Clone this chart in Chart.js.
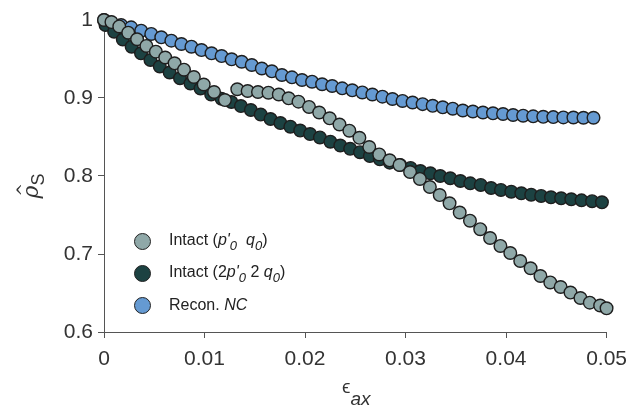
<!DOCTYPE html>
<html>
<head>
<meta charset="utf-8">
<script src="https://cdn.jsdelivr.net/npm/chart.js@4.4.1/dist/chart.umd.min.js"></script>
<style>
  html, body { margin: 0; padding: 0; background: #fff; }
  #wrap { position: relative; width: 636px; height: 418px; font-family: "Liberation Sans", Arial, sans-serif; color: #333; }
  #chart { position: absolute; left: 0; top: 0; }
  .ovl { position: absolute; white-space: nowrap; }
  #legend { left: 134px; top: 226px; font-size: 16px; color: #222; }
  #legend .row { height: 31.7px; display: flex; align-items: center; }
  #legend .dot { width: 15px; height: 15px; border-radius: 50%; border: 1.5px solid #222; margin-right: 18px; }
  #legend sub { font-size: 13px; vertical-align: -5px; }
  #xtitle { left: 342px; top: 376px; font-size: 19px; }
  #xtitle sub { font-size: 19px; font-style: italic; vertical-align: -12px; }
  #ytitle { left: 9px; top: 170px; width: 50px; height: 32px; font-size: 22px; transform: rotate(-90deg); text-align: center; }
  #ytitle .rho { position: relative; font-style: italic; font-family: "DejaVu Serif", serif; }
  #ytitle .hat { position: absolute; left: 2px; top: -4px; font-size: 16px; font-style: normal; }
  #ytitle sub { font-size: 18px; vertical-align: -6px; }
</style>
</head>
<body>
<div id="wrap">
  <canvas id="chart" width="636" height="418"></canvas>
  <div id="legend" class="ovl"></div>
  <div id="xtitle" class="ovl">&#x03F5;<sub>ax</sub></div>
  <div id="ytitle" class="ovl"><span class="rho">&rho;<span class="hat">^</span></span><sub>S</sub></div>
</div>
<script>
// ── Data ──
const seriesNames = [
    'Intact (<i>p\'</i><sub><i>0</i></sub> &nbsp;<i>q</i><sub><i>0</i></sub>)',
    'Intact (2<i>p\'</i><sub><i>0</i></sub> 2 <i>q</i><sub><i>0</i></sub>)',
    'Recon. <i>NC</i>'
];

const intactX = [0, 0.00074, 0.00152, 0.00241, 0.00329, 0.00422, 0.00516, 0.00609, 0.00702, 0.00796,
    0.00894, 0.00992, 0.01095, 0.01203, 0.01326, 0.01429, 0.01532, 0.01636, 0.01739, 0.01837,
    0.01935, 0.02040, 0.02141, 0.02245, 0.02343, 0.02441, 0.02541, 0.02639, 0.02738, 0.02842,
    0.02940, 0.03045, 0.03143, 0.03242, 0.03340, 0.03438, 0.03539, 0.03641, 0.03743, 0.03841,
    0.03944, 0.04042, 0.04141, 0.04244, 0.04342, 0.04440, 0.04543, 0.04641, 0.04740, 0.04833,
    0.04936, 0.05];
const intactY = [1.0000, 0.9974, 0.9917, 0.9837, 0.9753, 0.9667, 0.9594, 0.9519, 0.9445, 0.9363,
    0.9269, 0.9173, 0.9077, 0.8974, 0.9112, 0.9090, 0.9077, 0.9068, 0.9045, 0.8996,
    0.8953, 0.8885, 0.8814, 0.8740, 0.8660, 0.8581, 0.8490, 0.8372, 0.8276, 0.8201,
    0.8141, 0.8051, 0.7962, 0.7859, 0.7756, 0.7650, 0.7532, 0.7427, 0.7318, 0.7205,
    0.7103, 0.7013, 0.6910, 0.6817, 0.6718, 0.6635, 0.6577, 0.6506, 0.6436, 0.6376,
    0.6340, 0.6304];

const intact2X = [0.00015, 0.00101, 0.00187, 0.00275, 0.00368, 0.00462, 0.00555, 0.00653, 0.00756, 0.00860,
    0.00960, 0.01066, 0.01169, 0.01267, 0.01362, 0.01461, 0.01559, 0.01657, 0.01755, 0.01854,
    0.01952, 0.02050, 0.02148, 0.02252, 0.02351, 0.02449, 0.02547, 0.02645, 0.02744, 0.02842,
    0.02947, 0.03050, 0.03148, 0.03247, 0.03345, 0.03445, 0.03546, 0.03644, 0.03748, 0.03851,
    0.03949, 0.04052, 0.04152, 0.04250, 0.04349, 0.04447, 0.04548, 0.04649, 0.04751, 0.04856,
    0.04954];
const intact2Y = [0.9936, 0.9850, 0.9750, 0.9658, 0.9573, 0.9487, 0.9404, 0.9327, 0.9253, 0.9186,
    0.9122, 0.9045, 0.8990, 0.8949, 0.8897, 0.8846, 0.8788, 0.8731, 0.8679, 0.8632,
    0.8583, 0.8538, 0.8494, 0.8440, 0.8391, 0.8349, 0.8305, 0.8256, 0.8214, 0.8171,
    0.8141, 0.8103, 0.8064, 0.8035, 0.8000, 0.7971, 0.7936, 0.7906, 0.7885, 0.7846,
    0.7821, 0.7799, 0.7778, 0.7760, 0.7744, 0.7727, 0.7714, 0.7701, 0.7688, 0.7677,
    0.7663];

const reconX = [0, 0.0007, 0.0017, 0.0027, 0.0037, 0.0047, 0.0057, 0.0067, 0.0077, 0.0087,
    0.0097, 0.0107, 0.0117, 0.0127, 0.0137, 0.0147, 0.0157, 0.0167, 0.0177, 0.0187,
    0.0197, 0.0207, 0.0217, 0.0227, 0.0237, 0.0247, 0.0257, 0.0267, 0.0277, 0.0287,
    0.0297, 0.0307, 0.0317, 0.0327, 0.0337, 0.0347, 0.0357, 0.0367, 0.0377, 0.0387,
    0.0397, 0.0407, 0.0417, 0.0427, 0.0437, 0.0447, 0.0457, 0.0467, 0.0477, 0.0487];
const reconY = [1.0000, 0.9968, 0.9936, 0.9906, 0.9863, 0.9821, 0.9778, 0.9735, 0.9692, 0.9658,
    0.9615, 0.9573, 0.9538, 0.9496, 0.9465, 0.9423, 0.9378, 0.9342, 0.9295, 0.9265,
    0.9231, 0.9209, 0.9176, 0.9154, 0.9124, 0.9099, 0.9071, 0.9045, 0.9017, 0.8987,
    0.8962, 0.8942, 0.8921, 0.8900, 0.8881, 0.8863, 0.8840, 0.8827, 0.8814, 0.8804,
    0.8795, 0.8782, 0.8773, 0.8765, 0.8759, 0.8755, 0.8751, 0.8750, 0.8747, 0.8747];

const xTicks = [0, 0.01, 0.02, 0.03, 0.04, 0.05];
const xTickLabels = ['0', '0.01', '0.02', '0.03', '0.04', '0.05'];
const yTicks = [0.6, 0.7, 0.8, 0.9, 1];
const yTickLabels = ['0.6', '0.7', '0.8', '0.9', '1'];

// ── Styles ──
const fills = ['#8fa8a8', '#1c4242', '#659ad2'];
const edge = '#1e1e1e';
const axisColor = '#555';
const fontFamily = '"Liberation Sans", Arial, sans-serif';

function toPoints(xs, ys) {
    return xs.map((x, i) => ({ x: x, y: ys[i] }));
}

const seriesData = [
    toPoints(intactX, intactY),
    toPoints(intact2X, intact2Y),
    toPoints(reconX, reconY)
];

const datasets = seriesData.map((pts, i) => ({
    label: seriesNames[i],
    data: pts,
    showLine: false,
    pointRadius: 6.3,
    pointBorderWidth: 1.4,
    pointBackgroundColor: fills[i],
    pointBorderColor: edge,
    clip: false
}));

// ── Legend (HTML so sub/italic text works) ──
const legendEl = document.getElementById('legend');
seriesNames.forEach((name, i) => {
    const row = document.createElement('div');
    row.className = 'row';
    row.innerHTML = `<span class="dot" style="background:${fills[i]}"></span><span>${name}</span>`;
    legendEl.appendChild(row);
});

// ── Chart ──
new Chart(document.getElementById('chart'), {
    type: 'scatter',
    data: { datasets },
    options: {
        responsive: false,
        animation: false,
        devicePixelRatio: 1,
        events: [],
        layout: { padding: { top: 20, right: 23, left: 0, bottom: 0 } },
        plugins: { legend: { display: false }, tooltip: { enabled: false } },
        scales: {
            x: {
                type: 'linear',
                min: 0,
                max: 0.05,
                afterFit: s => { s.height = 86; },
                afterBuildTicks: s => { s.ticks = xTicks.map(v => ({ value: v })); },
                ticks: {
                    callback: (v, i) => xTickLabels[i],
                    font: { family: fontFamily, size: 21 },
                    color: '#333',
                    padding: 9,
                    maxRotation: 0,
                    autoSkip: false
                },
                grid: { drawOnChartArea: false, drawTicks: true, tickLength: 6, color: axisColor },
                border: { display: true, color: axisColor, width: 1 }
            },
            y: {
                type: 'linear',
                min: 0.6,
                max: 1,
                afterFit: s => { s.width = 104; },
                afterBuildTicks: s => { s.ticks = yTicks.map(v => ({ value: v })); },
                ticks: {
                    callback: (v, i) => yTickLabels[i],
                    font: { family: fontFamily, size: 21 },
                    color: '#333',
                    padding: 5,
                    autoSkip: false
                },
                grid: { drawOnChartArea: false, drawTicks: true, tickLength: 6, color: axisColor },
                border: { display: true, color: axisColor, width: 1 }
            }
        }
    }
});
</script>
</body>
</html>
